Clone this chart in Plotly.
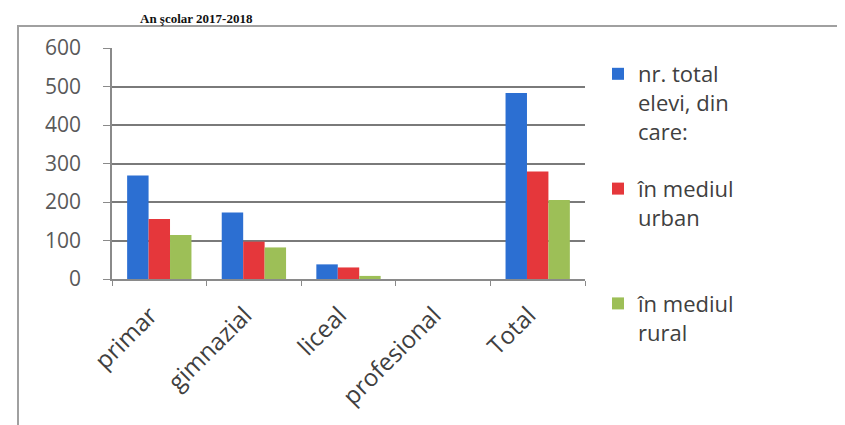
import plotly.graph_objects as go

categories = ["primar", "gimnazial", "liceal", "profesional", "Total"]
series_names = ["nr. total<br>elevi, din<br>care:", "în mediul<br>urban<br> ", "în mediul<br>rural"]
total_elevi = [269, 173, 38, 0, 483]
mediul_urban = [156, 97, 30, 0, 279]
mediul_rural = [114, 82, 8, 0, 205]
colors = ["#2C6FD2", "#E5373B", "#9DBF57"]
title_text = "An şcolar 2017-2018"

W, H = 845, 425
L, R, T, B = 104, 577, 40, 270.7

fig = go.Figure()
for i, (name, vals) in enumerate(zip(series_names, [total_elevi, mediul_urban, mediul_rural])):
    fig.add_trace(go.Bar(x=categories, y=vals, name=name, marker_color=colors[i],
                         marker_line_width=0, legendgroup=f"g{i}"))

def px_x(x):
    return (x - L) / (R - L)

def px_y(y):
    return (B - y) / (B - T)

fig.update_layout(
    width=W, height=H,
    margin=dict(l=L, r=W - R, t=T, b=H - B, pad=0, autoexpand=False),
    paper_bgcolor="white", plot_bgcolor="white",
    barmode="group", bargap=0.32, bargroupgap=0,
    font=dict(family="Open Sans", color="#404040"),
    showlegend=True,
    legend=dict(x=px_x(590), y=px_y(45), xanchor="left", yanchor="top",
                font=dict(size=22, color="#404040"), valign="top",
                tracegroupgap=26, bgcolor="rgba(0,0,0,0)", maxheight=400),
    xaxis=dict(showline=True, linecolor="#8a8a8a", linewidth=1.5, automargin=False,
               ticks="outside", tickson="boundaries", ticklen=5, tickcolor="#8a8a8a",
               tickangle=-45, tickfont=dict(size=24, color="#404040"),
               ticklabelstandoff=11, ticklabelshift=-9, showgrid=False),
    yaxis=dict(range=[0, 600], dtick=100, showline=True, linecolor="#8a8a8a", linewidth=1.5,
               automargin=False,
               ticks="outside", ticklen=7, tickcolor="#8a8a8a",
               tickfont=dict(size=21, color="#595959"), ticklabelstandoff=18,
               showgrid=True, gridcolor="#7a7a7a", gridwidth=1.6, zeroline=False),
    shapes=[dict(type="rect", xref="paper", yref="paper",
                 x0=px_x(10), x1=px_x(838), y0=px_y(440), y1=px_y(18),
                 line=dict(color="#a0a0a0", width=2), fillcolor="rgba(0,0,0,0)", layer="below")],
    annotations=[dict(text="<b>" + title_text + "</b>", xref="paper", yref="paper", x=px_x(188), y=px_y(1),
                      xanchor="center", yanchor="top", showarrow=False,
                      font=dict(family="Liberation Serif", size=13, color="#111111"))],
)

fig.write_html("out.html")
